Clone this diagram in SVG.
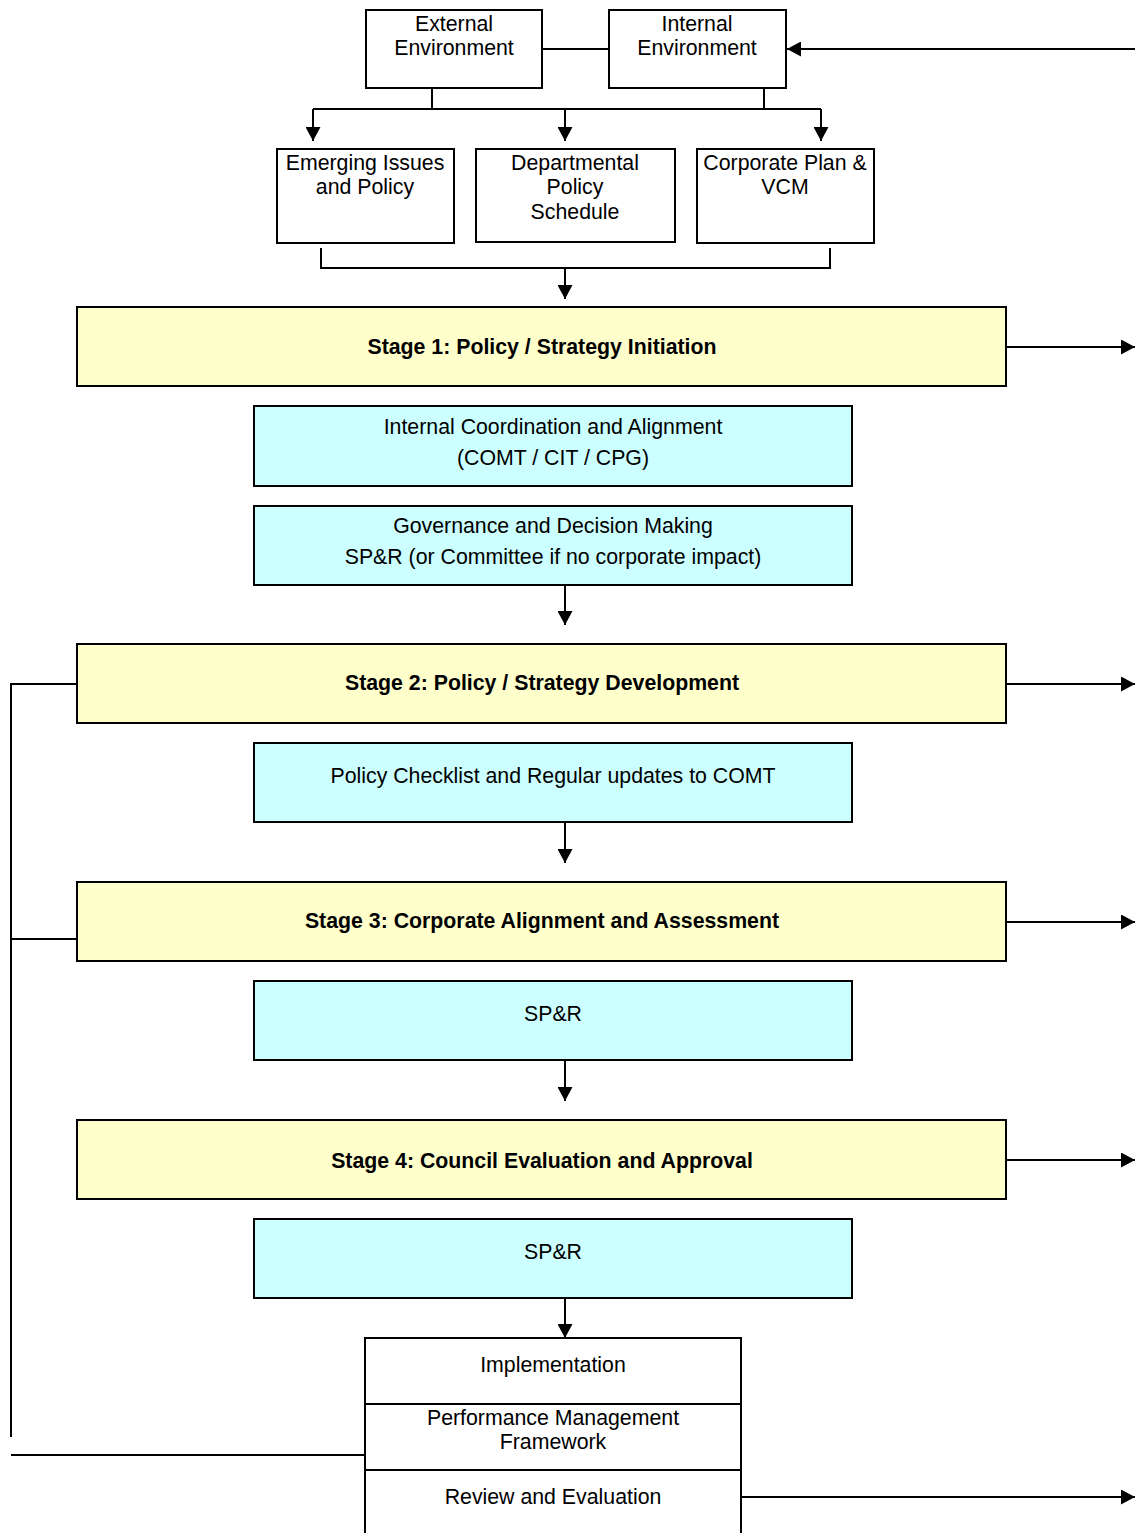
<svg xmlns="http://www.w3.org/2000/svg" width="1135" height="1533" viewBox="0 0 1135 1533">
<style>
text{font-family:"Liberation Sans",Arial,sans-serif;font-size:21.3px;fill:#000;text-anchor:middle}
.b{font-weight:bold}
.box{fill:#fff;stroke:#000;stroke-width:2}
.stage{fill:#FFFFCC;stroke:#000;stroke-width:2}
.cy{fill:#CCFFFF;stroke:#000;stroke-width:2}
.ln{fill:none;stroke:#000;stroke-width:2}
</style>
<defs>
<marker id="a" viewBox="0 0 14 15" refX="14" refY="7.5" markerWidth="14" markerHeight="15" markerUnits="userSpaceOnUse" orient="auto">
<path d="M0,0 L14,7.5 L0,15 z" fill="#000"/>
</marker>
</defs>
<g id="connectors">
<line class="ln" x1="543" y1="49" x2="609" y2="49"/>
<line class="ln" x1="1135" y1="49" x2="787" y2="49" marker-end="url(#a)"/>
<polyline class="ln" points="432,88 432,109"/>
<polyline class="ln" points="764,88 764,109"/>
<line class="ln" x1="313" y1="109" x2="821" y2="109"/>
<line class="ln" x1="313" y1="109" x2="313" y2="141" marker-end="url(#a)"/>
<line class="ln" x1="565" y1="109" x2="565" y2="141" marker-end="url(#a)"/>
<line class="ln" x1="821" y1="109" x2="821" y2="141" marker-end="url(#a)"/>
<polyline class="ln" points="321,248 321,268 830,268 830,248"/>
<line class="ln" x1="565" y1="268" x2="565" y2="299" marker-end="url(#a)"/>
<line class="ln" x1="565" y1="585" x2="565" y2="625" marker-end="url(#a)"/>
<line class="ln" x1="565" y1="822" x2="565" y2="863" marker-end="url(#a)"/>
<line class="ln" x1="565" y1="1060" x2="565" y2="1101" marker-end="url(#a)"/>
<line class="ln" x1="565" y1="1298" x2="565" y2="1338" marker-end="url(#a)"/>
<line class="ln" x1="1006" y1="347" x2="1135" y2="347" marker-end="url(#a)"/>
<line class="ln" x1="1006" y1="684" x2="1135" y2="684" marker-end="url(#a)"/>
<line class="ln" x1="1006" y1="922" x2="1135" y2="922" marker-end="url(#a)"/>
<line class="ln" x1="1006" y1="1160" x2="1135" y2="1160" marker-end="url(#a)"/>
<line class="ln" x1="741" y1="1497" x2="1135" y2="1497" marker-end="url(#a)"/>
<polyline class="ln" points="77,684 11,684 11,1437"/>
<line class="ln" x1="11" y1="939" x2="83" y2="939"/>
<line class="ln" x1="11" y1="1455" x2="365" y2="1455"/>
</g>
<g id="external"><rect class="box" x="366" y="10" width="176" height="78"/><text x="454" y="31">External</text><text x="454" y="55">Environment</text></g>
<g id="internal"><rect class="box" x="609" y="10" width="177" height="78"/><text x="697" y="31">Internal</text><text x="697" y="55">Environment</text></g>
<g id="emerging"><rect class="box" x="277" y="149" width="177" height="94"/><text x="365" y="170">Emerging Issues</text><text x="365" y="194">and Policy</text></g>
<g id="departmental"><rect class="box" x="476" y="149" width="199" height="93"/><text x="575" y="170">Departmental</text><text x="575" y="194">Policy</text><text x="575" y="219">Schedule</text></g>
<g id="corporate"><rect class="box" x="697" y="149" width="177" height="94"/><text x="785" y="170">Corporate Plan &amp;</text><text x="785" y="194">VCM</text></g>
<g id="stage1"><rect class="stage" x="77" y="307" width="929" height="79"/><text class="b" x="542" y="354">Stage 1: Policy / Strategy Initiation</text></g>
<g id="coord"><rect class="cy" x="254" y="406" width="598" height="80"/><text x="553" y="434">Internal Coordination and Alignment</text><text x="553" y="465">(COMT / CIT / CPG)</text></g>
<g id="governance"><rect class="cy" x="254" y="506" width="598" height="79"/><text x="553" y="533">Governance and Decision Making</text><text x="553" y="564">SP&amp;R (or Committee if no corporate impact)</text></g>
<g id="stage2"><rect class="stage" x="77" y="644" width="929" height="79"/><text class="b" x="542" y="690">Stage 2: Policy / Strategy Development</text></g>
<g id="checklist"><rect class="cy" x="254" y="743" width="598" height="79"/><text x="553" y="783">Policy Checklist and Regular updates to COMT</text></g>
<g id="stage3"><rect class="stage" x="77" y="882" width="929" height="79"/><text class="b" x="542" y="928">Stage 3: Corporate Alignment and Assessment</text></g>
<g id="spr1"><rect class="cy" x="254" y="981" width="598" height="79"/><text x="553" y="1021">SP&amp;R</text></g>
<g id="stage4"><rect class="stage" x="77" y="1120" width="929" height="79"/><text class="b" x="542" y="1168">Stage 4: Council Evaluation and Approval</text></g>
<g id="spr2"><rect class="cy" x="254" y="1219" width="598" height="79"/><text x="553" y="1259">SP&amp;R</text></g>
<g id="implementation"><path class="ln" d="M365,1540 L365,1338 L741,1338 L741,1540"/><line class="ln" x1="365" y1="1404" x2="741" y2="1404"/><text x="553" y="1372">Implementation</text></g>
<g id="performance"><line class="ln" x1="365" y1="1470" x2="741" y2="1470"/><text x="553" y="1425">Performance Management</text><text x="553" y="1449">Framework</text></g>
<g id="review"><text x="553" y="1504">Review and Evaluation</text></g>
</svg>
